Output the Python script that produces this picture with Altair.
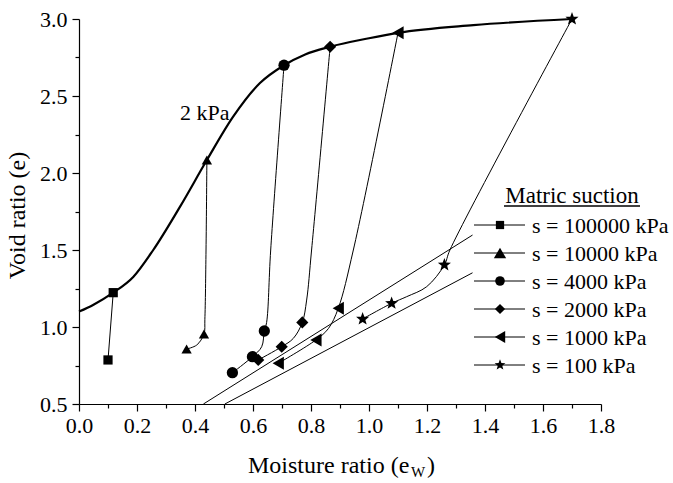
import math
import altair as alt
import pandas as pd

# --- wetting/drying curve at 2 kPa (thick line) ---
curve_x = [0.00, 0.05, 0.118, 0.187, 0.256, 0.348, 0.441, 0.531, 0.624, 0.707, 0.78, 0.866, 1.00, 1.10, 1.36, 1.70]
curve_y = [1.10, 1.145, 1.223, 1.325, 1.50, 1.78, 2.084, 2.364, 2.584, 2.70, 2.77, 2.82, 2.875, 2.91, 2.96, 3.00]

# --- suction levels ---
series_names = ["s = 100000 kPa", "s = 10000 kPa", "s = 4000 kPa",
                "s = 2000 kPa", "s = 1000 kPa", "s = 100 kPa"]

# measured points (markers) for each suction level
sq_x, sq_y = [0.118, 0.100], [1.223, 0.786]
tri_x, tri_y = [0.441, 0.431, 0.371], [2.084, 0.955, 0.857]
cir_x, cir_y = [0.707, 0.639, 0.598, 0.529], [2.70, 0.974, 0.807, 0.703]
dia_x, dia_y = [0.866, 0.770, 0.699, 0.618], [2.82, 1.030, 0.872, 0.786]
lt_x, lt_y = [1.10, 0.894, 0.817, 0.687], [2.91, 1.121, 0.916, 0.764]
st_x, st_y = [1.70, 1.260, 1.078, 0.978], [3.00, 1.403, 1.154, 1.052]

# traced paths joining the points of each suction level
sq_px, sq_py = [0.118, 0.100], [1.223, 0.786]
tri_px = [0.441, 0.438, 0.434, 0.431, 0.406, 0.371]
tri_py = [2.084, 1.500, 1.050, 0.955, 0.883, 0.857]
cir_px = [0.707, 0.661, 0.647, 0.639, 0.630, 0.598, 0.529]
cir_py = [2.700, 1.500, 1.030, 0.974, 0.872, 0.807, 0.703]
dia_px = [0.866, 0.802, 0.785, 0.770, 0.739, 0.699, 0.618]
dia_py = [2.820, 1.500, 1.175, 1.030, 0.926, 0.872, 0.786]
lt_px = [1.100, 0.946, 0.894, 0.860, 0.817, 0.687]
lt_py = [2.910, 1.500, 1.121, 0.990, 0.916, 0.764]
st_px = [1.700, 1.279, 1.260, 1.199, 1.130, 1.078, 0.978]
st_py = [3.000, 1.500, 1.403, 1.262, 1.197, 1.154, 1.052]

# two straight bounding lines
bound_names = ["upper", "lower"]
bound_x0, bound_y0 = [0.429, 0.503], [0.5, 0.5]
bound_x1, bound_y1 = [1.357, 1.357], [1.597, 1.352]

# annotation on the thick curve
note_text = "2 kPa"
note_x, note_y = 0.348, 2.344

# axis tick positions (major + minor)
x_ticks = [round(0.1 * i, 1) for i in range(19)]
y_ticks = [0.5 + 0.25 * i for i in range(11)]

# ---------------------------------------------------------------------------
FONT = "Liberation Serif, Times New Roman, DejaVu Serif, serif"


def star_path(inner=0.42):
    pts = []
    for k in range(10):
        ang = -math.pi / 2 + k * math.pi / 5
        r = 1.0 if k % 2 == 0 else inner
        pts.append(f"{r * math.cos(ang):.3f},{r * math.sin(ang):.3f}")
    return "M" + "L".join(pts) + "Z"


shapes = ["square", "triangle-up", "circle", "diamond", "triangle-left", star_path()]
sizes = [85, 190, 115, 130, 180, 160]

marker_sets = [(sq_x, sq_y), (tri_x, tri_y), (cir_x, cir_y),
               (dia_x, dia_y), (lt_x, lt_y), (st_x, st_y)]
path_sets = [(sq_px, sq_py), (tri_px, tri_py), (cir_px, cir_py),
             (dia_px, dia_py), (lt_px, lt_py), (st_px, st_py)]

markers = pd.DataFrame([
    {"series": name, "x": x, "y": y}
    for name, (xs, ys) in zip(series_names, marker_sets)
    for x, y in zip(xs, ys)
])
paths = pd.DataFrame([
    {"series": name, "k": k, "x": x, "y": y}
    for name, (xs, ys) in zip(series_names, path_sets)
    for k, (x, y) in enumerate(zip(xs, ys))
])
curve = pd.DataFrame({"k": range(len(curve_x)), "x": curve_x, "y": curve_y})
bounds = pd.DataFrame(
    [{"b": n, "k": 0, "x": x0, "y": y0} for n, x0, y0 in zip(bound_names, bound_x0, bound_y0)]
    + [{"b": n, "k": 1, "x": x1, "y": y1} for n, x1, y1 in zip(bound_names, bound_x1, bound_y1)]
)
note = pd.DataFrame({"x": [note_x], "y": [note_y], "t": [note_text]})

x_major = "abs(datum.value * 5 - round(datum.value * 5)) < 1e-6"
y_major = "abs(datum.value * 2 - round(datum.value * 2)) < 1e-6"

X = alt.X(
    "x:Q",
    scale=alt.Scale(domain=[0, 1.8], nice=False, zero=False),
    axis=alt.Axis(
        values=x_ticks, title=None, grid=False, format=".1f",
        labelExpr=f"{x_major} ? datum.label : ''",
        tickSize={"condition": {"test": x_major, "value": 7}, "value": 4},
        labelOverlap=False, labelFlush=False, labelPadding=4,
    ),
)
Y = alt.Y(
    "y:Q",
    scale=alt.Scale(domain=[0.5, 3.0], nice=False, zero=False),
    axis=alt.Axis(
        values=y_ticks, title="Void ratio (e)", grid=False, format=".1f",
        labelExpr=f"{y_major} ? datum.label : ''",
        tickSize={"condition": {"test": y_major, "value": 7}, "value": 4},
        labelOverlap=False, labelFlush=False, labelPadding=5,
        titleAngle=270, titleX=-55, titleY=196, titleAlign="center",
        titleBaseline="alphabetic", titleFontSize=24, titleFont=FONT,
        titleFontWeight="normal", titleColor="black",
    ),
)

shape_scale = alt.Scale(domain=series_names, range=shapes)
size_scale = alt.Scale(domain=series_names, range=sizes)

curve_layer = alt.Chart(curve).mark_line(
    color="black", strokeWidth=2.2, interpolate="monotone"
).encode(x=X, y=Y, order="k:Q")

path_layer = alt.Chart(paths).mark_line(
    color="black", strokeWidth=1, interpolate="catmull-rom"
).encode(x=X, y=Y, detail="series:N", order="k:Q")

bound_layer = alt.Chart(bounds).mark_line(color="black", strokeWidth=1).encode(
    x=X, y=Y, detail="b:N", order="k:Q"
)

marker_layer = alt.Chart(markers).mark_point(
    filled=True, color="black", opacity=1, strokeWidth=0
).encode(
    x=X, y=Y,
    shape=alt.Shape("series:N", scale=shape_scale, legend=None),
    size=alt.Size("series:N", scale=size_scale, legend=None),
)

note_layer = alt.Chart(note).mark_text(
    font=FONT, fontSize=22, align="left", baseline="alphabetic", color="black"
).encode(x=X, y=Y, text="t:N")

# --- legend drawn by hand: line through marker, then label ---
one = pd.DataFrame({"t": [""]})
legend_layers = []
legend_layers.append(
    alt.Chart(pd.DataFrame({"t": ["Matric suction"]})).mark_text(
        font=FONT, fontSize=23, align="center", baseline="alphabetic", color="black"
    ).encode(x=alt.value(493), y=alt.value(184), text="t:N")
)
legend_layers.append(
    alt.Chart(one).mark_rule(color="black", strokeWidth=1.6).encode(
        x=alt.value(425), x2=alt.value(561), y=alt.value(187)
    )
)
for i, (name, shp, sz) in enumerate(zip(series_names, shapes, sizes)):
    yy = 206 + 28 * i
    legend_layers.append(
        alt.Chart(one).mark_rule(color="black", strokeWidth=1).encode(
            x=alt.value(395), x2=alt.value(446), y=alt.value(yy)
        )
    )
    legend_layers.append(
        alt.Chart(one).mark_point(filled=True, color="black", opacity=1, strokeWidth=0).encode(
            x=alt.value(421), y=alt.value(yy), shape=alt.value(shp), size=alt.value(sz * 0.8)
        )
    )
    legend_layers.append(
        alt.Chart(pd.DataFrame({"t": [name]})).mark_text(
            font=FONT, fontSize=22, align="left", baseline="middle", color="black"
        ).encode(x=alt.value(453), y=alt.value(yy + 1), text="t:N")
    )

# --- x-axis title with subscript W ---
xt = [
    ("Moisture ratio (e", 169, 454, 24),
    ("W", 332, 458, 15),
    (")", 348, 454, 24),
]
xtitle_layers = [
    alt.Chart(pd.DataFrame({"t": [t]})).mark_text(
        font=FONT, fontSize=fs, align="left", baseline="alphabetic", color="black"
    ).encode(x=alt.value(px), y=alt.value(py), text="t:N")
    for t, px, py, fs in xt
]

chart = alt.layer(
    bound_layer, path_layer, curve_layer, marker_layer, note_layer,
    *legend_layers, *xtitle_layers,
).properties(
    width=522, height=385,
    autosize=alt.AutoSizeParams(type="none"),
    padding={"left": 79, "top": 19, "right": 72, "bottom": 79},
    background="white",
).configure_view(stroke=None).configure_axis(
    labelFont=FONT, labelFontSize=22, labelColor="black",
    domainColor="black", domainWidth=1.2, tickColor="black", tickWidth=1.2,
)

chart.save("out.html", embed_options={"renderer": "svg", "actions": False})
